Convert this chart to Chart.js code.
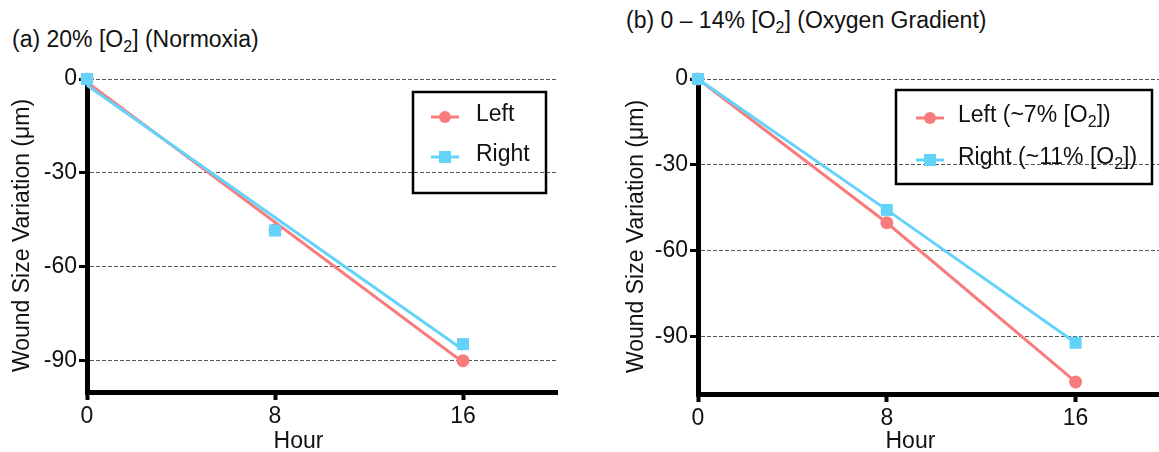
<!DOCTYPE html>
<html>
<head>
<meta charset="utf-8">
<script src="https://cdn.jsdelivr.net/npm/chart.js@4.4.1/dist/chart.umd.min.js"></script>
<style>
  html, body { margin: 0; padding: 0; background: #fff; overflow: hidden; }
  body { width: 1159px; height: 452px; position: relative; font-family: "Liberation Sans", Arial, sans-serif; }
  .panel { position: absolute; top: 0; width: 580px; height: 452px; }
  .title { position: absolute; font-size: 23px; line-height: 23px; color: #111; white-space: nowrap; }
  .title sub { font-size: 16px; vertical-align: -5px; line-height: 0; }
</style>
</head>
<body>
<div class="title" style="left:12px; top:28px">(a) 20% [O<sub>2</sub>] (Normoxia)</div>
<div class="title" style="left:626px; top:9px">(b) 0 – 14% [O<sub>2</sub>] (Oxygen Gradient)</div>
<div class="panel" style="left:0"><canvas id="chartA" width="580" height="452"></canvas></div>
<div class="panel" style="left:600px"><canvas id="chartB" width="580" height="452"></canvas></div>

<script>
// data
const hours = [0, 8, 16];
const fitHours = [0, 16];
const xTicks = [0, 8, 16];
const yTicks = [0, -30, -60, -90];

// (a) normoxia
const normLeft = [0, -48.2, -90];
const normRight = [0, -48.4, -84.7];
const normLeftFit = [-1, -90.5];
const normRightFit = [-2, -86.5];
const namesA = ["Left", "Right"];

// (b) oxygen gradient
const gradLeft = [0, -50.2, -105.8];
const gradRight = [0, -45.7, -92.1];
const namesB = ["Left (~7% [O₂])", "Right (~11% [O₂])"];

const PINK = "#f87c7c";
const CYAN = "#63d3f9";
const FONT = '"Liberation Sans", Arial, sans-serif';

const pts = (xs, ys) => xs.map((x, i) => ({ x: x, y: ys[i] }));

// text with a subscript 2
function drawRich(ctx, text, x, y, size) {
  const parts = text.split("₂");
  parts.forEach((p, i) => {
    ctx.font = size + "px " + FONT;
    ctx.fillText(p, x, y);
    x += ctx.measureText(p).width;
    if (i < parts.length - 1) {
      ctx.font = Math.round(size * 0.7) + "px " + FONT;
      ctx.fillText("2", x, y + size * 0.28);
      x += ctx.measureText("2").width;
    }
  });
}

const boxLegend = {
  id: "boxLegend",
  afterDraw(chart, args, o) {
    const ctx = chart.ctx;
    ctx.save();
    ctx.strokeStyle = "#000";
    ctx.lineWidth = 2.5;
    ctx.strokeRect(o.x, o.y, o.w, o.h);
    o.items.forEach((it, i) => {
      const cy = o.rows[i];
      ctx.strokeStyle = it.color;
      ctx.lineWidth = 3;
      ctx.beginPath();
      ctx.moveTo(o.symX - 14, cy);
      ctx.lineTo(o.symX + 14, cy);
      ctx.stroke();
      ctx.fillStyle = it.color;
      if (it.shape === "circle") {
        ctx.beginPath();
        ctx.arc(o.symX, cy, 6, 0, Math.PI * 2);
        ctx.fill();
      } else {
        ctx.fillRect(o.symX - 6, cy - 6, 12, 12);
      }
      ctx.fillStyle = "#111";
      ctx.textBaseline = "middle";
      ctx.textAlign = "left";
      drawRich(ctx, it.text, o.textX, cy - 2, 23);
    });
    ctx.restore();
  }
};

const hourLabel = {
  id: "hourLabel",
  afterDraw(chart, args, o) {
    const ctx = chart.ctx;
    ctx.save();
    ctx.font = "23px " + FONT;
    ctx.fillStyle = "#111";
    ctx.textAlign = "center";
    ctx.textBaseline = "middle";
    ctx.fillText("Hour", chart.scales.x.getPixelForValue(o.at), o.y);
    ctx.restore();
  }
};

function makeOptions(c) {
  return {
    responsive: false,
    animation: false,
    layout: { padding: { left: 0, top: c.top, right: c.right, bottom: 0 } },
    plugins: {
      legend: { display: false },
      tooltip: { enabled: false },
      boxLegend: c.legend,
      hourLabel: { at: 9, y: 442 }
    },
    scales: {
      x: {
        type: "linear",
        min: 0,
        max: 20,
        afterBuildTicks: s => { s.ticks = xTicks.map(v => ({ value: v })); },
        afterFit: s => { s.height = c.xHeight; },
        grid: { drawOnChartArea: false, tickLength: 8, tickWidth: 4, tickColor: "#000" },
        border: { color: "#000", width: 5 },
        ticks: { color: "#111", font: { size: 23, family: FONT }, padding: 3, maxRotation: 0 }
      },
      y: {
        min: c.yMin,
        max: 0,
        afterBuildTicks: s => { s.ticks = yTicks.map(v => ({ value: v })); },
        afterFit: s => { s.width = c.yWidth; },
        grid: { color: "#555", lineWidth: 1, tickLength: 8, tickWidth: 3, tickColor: "#000", tickBorderDash: [] },
        border: { color: "#000", width: 5, dash: [4, 2] },
        title: {
          display: true,
          text: "Wound Size Variation (μm)",
          color: "#111",
          font: { size: 23, family: FONT },
          padding: { top: c.titlePad, bottom: 0 }
        },
        ticks: { color: "#111", font: { size: 23, family: FONT }, padding: 2 }
      }
    }
  };
}

const lineSet = (data, color, order) => ({
  data: data, showLine: true, borderColor: color, borderWidth: 3,
  pointRadius: 0, order: order, clip: false
});
const pointSet = (data, color, style, order, line) => ({
  data: data, showLine: line, borderColor: color, borderWidth: 3,
  pointStyle: style, pointRadius: style === "rect" ? 8.5 : 6.5,
  pointBackgroundColor: color, pointBorderWidth: 0, order: order, clip: false
});

// PANEL A
new Chart(document.getElementById("chartA"), {
  type: "scatter",
  data: {
    datasets: [
      lineSet(pts(fitHours, normRightFit), CYAN, 1),
      pointSet(pts(hours, normRight), CYAN, "rect", 0, false),
      lineSet(pts(fitHours, normLeftFit), PINK, 3),
      pointSet(pts(hours, normLeft), PINK, "circle", 2, false)
    ]
  },
  options: makeOptions({
    top: 79, right: 23, yWidth: 87, xHeight: 60, yMin: -100, titlePad: 9,
    legend: {
      x: 413, y: 92, w: 133, h: 101, rows: [117, 157], symX: 445, textX: 476,
      items: [
        { text: namesA[0], color: PINK, shape: "circle" },
        { text: namesA[1], color: CYAN, shape: "rect" }
      ]
    }
  }),
  plugins: [boxLegend, hourLabel]
});

// PANEL B
new Chart(document.getElementById("chartB"), {
  type: "scatter",
  data: {
    datasets: [
      pointSet(pts(hours, gradRight), CYAN, "rect", 0, true),
      pointSet(pts(hours, gradLeft), PINK, "circle", 1, true)
    ]
  },
  options: makeOptions({
    top: 79, right: 10, yWidth: 98, xHeight: 58, yMin: -110, titlePad: 23,
    legend: {
      x: 296, y: 90, w: 256, h: 94, rows: [118, 160], symX: 330, textX: 358,
      items: [
        { text: namesB[0], color: PINK, shape: "circle" },
        { text: namesB[1], color: CYAN, shape: "rect" }
      ]
    }
  }),
  plugins: [boxLegend, hourLabel]
});
</script>
</body>
</html>
